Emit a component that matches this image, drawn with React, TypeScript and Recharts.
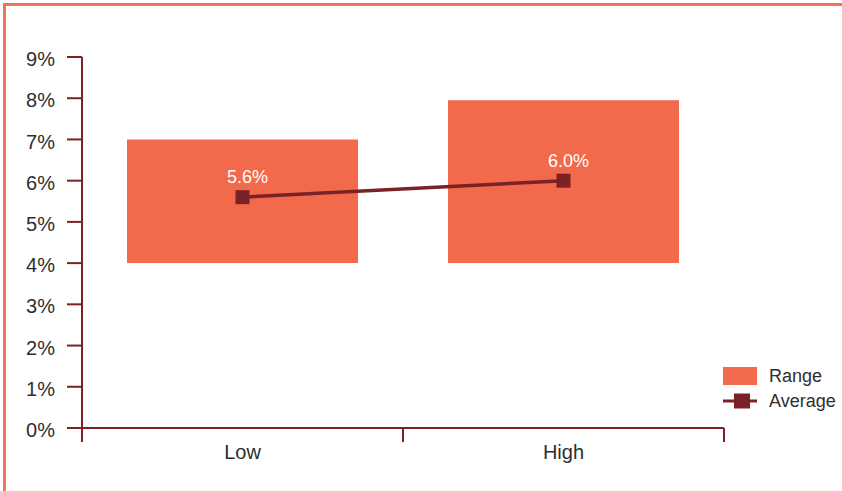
import { ComposedChart, Bar, Line, XAxis, YAxis } from 'recharts'

const categories = ['Low', 'High']
const rangeMin = [4, 4]
const rangeMax = [7, 7.95]
const average = [5.6, 6.0]
const yTicks = [0, 1, 2, 3, 4, 5, 6, 7, 8, 9]

const legendItems = [
  { label: 'Range', kind: 'box' },
  { label: 'Average', kind: 'line' },
]

const data = categories.map((name, i) => ({
  name,
  range: [rangeMin[i], rangeMax[i]],
  avg: average[i],
}))

const ORANGE = '#f2694b'
const FRAME = '#f2735a'
const MAROON = '#7b2226'
const TEXT = '#2e2e2e'
const FONT = '"Liberation Sans", Arial, Helvetica, sans-serif'

// category labels sit at band centres; the tick marks sit on band edges
function CategoryTick(props: any) {
  const { x, y, payload, index, visibleTicksCount } = props
  const half = payload.offset ?? 160
  const isLast = index === visibleTicksCount - 1
  return (
    <g>
      <line x1={x - half} x2={x - half} y1={y} y2={y + 14} stroke={MAROON} strokeWidth={2} />
      {isLast && (
        <line x1={x + half} x2={x + half} y1={y} y2={y + 14} stroke={MAROON} strokeWidth={2} />
      )}
      <text x={x} y={y + 31} textAnchor="middle" fill={TEXT} fontSize={20} fontFamily={FONT}>
        {payload.value}
      </text>
    </g>
  )
}

function SquareDot(props: any) {
  const { cx, cy, index } = props
  if (cx == null || cy == null) return null
  return <rect key={`dot-${index}`} x={cx - 7} y={cy - 7} width={14} height={14} fill={MAROON} />
}

function AvgLabel(props: any) {
  const { x, y, value, index } = props
  return (
    <text
      key={`lbl-${index}`}
      x={x + 5}
      y={y - 14}
      textAnchor="middle"
      fill="#ffffff"
      fontSize={18}
      fontFamily={FONT}
    >
      {`${Number(value).toFixed(1)}%`}
    </text>
  )
}

export default function App() {
  return (
    <div
      style={{
        position: 'absolute',
        left: 0,
        top: 0,
        width: 842,
        height: 491,
        background: '#fff',
        fontFamily: FONT,
        overflow: 'hidden',
      }}
    >
      <div
        style={{
          position: 'absolute',
          left: 3,
          top: 3,
          right: 0,
          bottom: 0,
          borderTop: `3px solid ${FRAME}`,
          borderLeft: `3px solid ${FRAME}`,
        }}
      />
      <ComposedChart
        width={842}
        height={491}
        data={data}
        margin={{ top: 57, right: 118, bottom: 0, left: 1 }}
        style={{ position: 'absolute', left: 0, top: 0 }}
      >
        <XAxis
          dataKey="name"
          height={63}
          axisLine={{ stroke: MAROON, strokeWidth: 2 }}
          tickLine={false}
          tickSize={0}
          tickMargin={0}
          tick={<CategoryTick />}
          interval={0}
        />
        <YAxis
          width={81}
          domain={[0, 9]}
          ticks={yTicks}
          interval={0}
          tickFormatter={(v: number) => `${v}%`}
          axisLine={{ stroke: MAROON, strokeWidth: 2 }}
          tickLine={{ stroke: MAROON, strokeWidth: 2 }}
          tickSize={15}
          tickMargin={12}
          tick={{ fill: TEXT, fontSize: 20, fontFamily: FONT, dy: 2 }}
        />
        <Bar dataKey="range" fill={ORANGE} barSize={231} isAnimationActive={false} />
        <Line
          dataKey="avg"
          type="linear"
          stroke={MAROON}
          strokeWidth={3.5}
          dot={<SquareDot />}
          activeDot={false}
          label={<AvgLabel />}
          isAnimationActive={false}
        />
      </ComposedChart>

      {/* legend */}
      {legendItems.map((item, i) => (
        <div
          key={item.label}
          style={{
            position: 'absolute',
            left: 723,
            top: 365 + i * 25,
            height: 22,
            display: 'flex',
            alignItems: 'center',
          }}
        >
          <svg width={36} height={22}>
            {item.kind === 'box' ? (
              <rect x={0} y={2} width={34} height={18} fill={ORANGE} />
            ) : (
              <g>
                <line x1={0} x2={34} y1={11} y2={11} stroke={MAROON} strokeWidth={3} />
                <rect x={11} y={3.5} width={16} height={15} fill={MAROON} />
              </g>
            )}
          </svg>
          <span style={{ marginLeft: 10, fontSize: 18, color: TEXT, lineHeight: '22px' }}>
            {item.label}
          </span>
        </div>
      ))}
    </div>
  )
}
